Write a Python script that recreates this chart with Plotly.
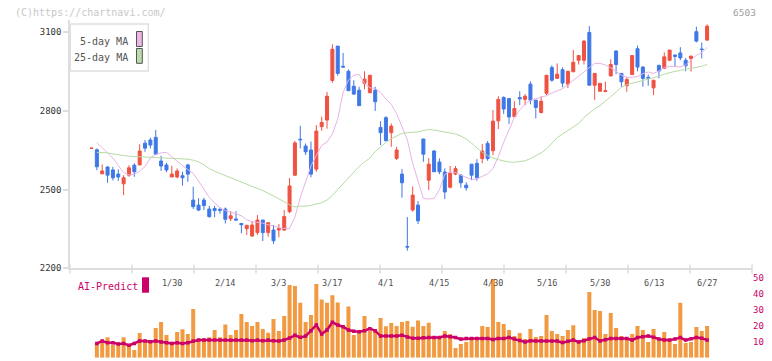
import plotly.graph_objects as go

W, H = 772, 361

# ---------------- data ----------------
date_labels = ["1/30", "2/14", "3/3", "3/17", "4/1", "4/15", "4/30", "5/16", "5/30", "6/13", "6/27"]
date_label_idx = [15, 25, 35, 45, 55, 65, 75, 85, 95, 105, 115]

open_ = [2657, 2652, 2560, 2586, 2575, 2559, 2522, 2555, 2593, 2594,
         2677, 2689, 2699, 2609, 2594, 2548, 2548, 2553, 2594, 2460,
         2441, 2460, 2426, 2428, 2425, 2426, 2389, 2388, 2371, 2351,
         2323, 2336, 2384, 2336, 2346, 2346, 2346, 2416, 2555, 2692,
         2666, 2651, 2578, 2740, 2765, 2916, 3047, 2970, 2951, 2894,
         2879, 2905, 2869, 2879, 2737, 2774, 2717, 2619, 2559, 2283,
         2422, 2441, 2693, 2536, 2647, 2605, 2567, 2509, 2559, 2555,
         2517, 2597, 2600, 2618, 2676, 2648, 2762, 2851, 2847, 2778,
         2851, 2844, 2902, 2841, 2794, 2867, 2965, 2924, 2957, 2902,
         2949, 2993, 2993, 3099, 2898, 2875, 2874, 2933, 3028, 2943,
         2896, 2939, 3037, 2967, 2928, 2888, 2974, 2962, 2993, 3013,
         3021, 2993, 2999, 3102, 3036, 3070]
high = [2658, 2657, 2596, 2590, 2587, 2577, 2555, 2593, 2600, 2673,
        2689, 2698, 2727, 2629, 2602, 2591, 2581, 2568, 2598, 2511,
        2467, 2469, 2438, 2438, 2432, 2432, 2418, 2418, 2372, 2364,
        2380, 2403, 2384, 2374, 2365, 2369, 2422, 2544, 2686, 2743,
        2676, 2683, 2746, 2778, 2872, 3054, 3047, 3021, 2958, 2917,
        2892, 2951, 2936, 2892, 2761, 2780, 2752, 2663, 2578, 2395,
        2512, 2456, 2693, 2620, 2651, 2619, 2581, 2590, 2590, 2559,
        2528, 2597, 2616, 2674, 2685, 2803, 2856, 2856, 2847, 2837,
        2875, 2864, 2913, 2841, 2856, 2936, 2974, 2981, 2966, 2951,
        3032, 3011, 3070, 3123, 2943, 2905, 2911, 2997, 3032, 2943,
        2930, 3013, 3049, 2971, 2939, 2917, 2974, 3023, 3032, 3015,
        3043, 3002, 3009, 3121, 3061, 3130]
low = [2656, 2574, 2560, 2526, 2535, 2533, 2479, 2549, 2549, 2594,
       2644, 2657, 2632, 2571, 2566, 2548, 2543, 2515, 2530, 2426,
       2418, 2422, 2393, 2395, 2408, 2371, 2380, 2383, 2333, 2327,
       2320, 2327, 2304, 2320, 2293, 2318, 2342, 2410, 2552, 2657,
       2632, 2547, 2568, 2724, 2732, 2907, 2934, 2966, 2877, 2861,
       2820, 2883, 2869, 2800, 2670, 2686, 2663, 2613, 2469, 2267,
       2416, 2369, 2606, 2498, 2568, 2559, 2464, 2505, 2555, 2507,
       2496, 2536, 2534, 2600, 2610, 2632, 2731, 2788, 2750, 2778,
       2822, 2822, 2825, 2771, 2790, 2860, 2911, 2924, 2890, 2887,
       2949, 2977, 2977, 2898, 2841, 2875, 2871, 2933, 2940, 2892,
       2873, 2936, 2951, 2892, 2896, 2860, 2924, 2962, 2990, 2971,
       2993, 2951, 2950, 3061, 3000, 3066]
close = [2658, 2587, 2571, 2555, 2545, 2548, 2545, 2583, 2568, 2647,
         2658, 2670, 2635, 2590, 2575, 2559, 2571, 2545, 2559, 2435,
         2422, 2439, 2397, 2420, 2421, 2387, 2400, 2384, 2366, 2364,
         2365, 2384, 2336, 2374, 2305, 2352, 2397, 2514, 2678, 2690,
         2644, 2559, 2723, 2756, 2856, 3035, 2943, 2967, 2877, 2864,
         2820, 2921, 2936, 2835, 2717, 2686, 2742, 2651, 2526, 2281,
         2479, 2381, 2635, 2597, 2568, 2568, 2491, 2562, 2580, 2526,
         2507, 2555, 2545, 2647, 2618, 2761, 2844, 2807, 2777, 2809,
         2846, 2856, 2841, 2813, 2837, 2936, 2917, 2940, 2906, 2951,
         2985, 3011, 3066, 2898, 2943, 2905, 2877, 2977, 2977, 2911,
         2920, 3011, 2967, 2924, 2925, 2917, 2952, 3006, 3032, 3008,
         3002, 2972, 3009, 3066, 3034, 3123]

ma5 = [None, 2679, 2660, 2640, 2620, 2592, 2565, 2556, 2558, 2570,
       2588, 2620, 2634, 2640, 2642, 2625, 2610, 2592, 2576, 2562,
       2533, 2500, 2470, 2450, 2430, 2420, 2415, 2408, 2400, 2385,
       2378, 2376, 2372, 2366, 2362, 2355, 2352, 2352, 2395, 2470,
       2530, 2590, 2630, 2668, 2682, 2712, 2770, 2870, 2918, 2936,
       2939, 2905, 2888, 2886, 2870, 2845, 2825, 2790, 2740, 2690,
       2600, 2530, 2466, 2464, 2466, 2500, 2558, 2568, 2565, 2555,
       2545, 2538, 2541, 2552, 2560, 2580, 2625, 2680, 2730, 2775,
       2803, 2826, 2840, 2846, 2850, 2858, 2868, 2876, 2885, 2900,
       2916, 2932, 2948, 2965, 2981, 2981, 2975, 2965, 2950, 2936,
       2928, 2928, 2931, 2942, 2948, 2943, 2952, 2965, 2970, 2970,
       2968, 2975, 2995, 3012, 3022, 3042]
ma25 = [None, 2642, 2641, 2640, 2636, 2632, 2630, 2627, 2626, 2625,
        2625, 2624, 2624, 2623, 2622, 2621, 2620, 2619, 2616, 2612,
        2606, 2594, 2580, 2570, 2562, 2552, 2544, 2535, 2528, 2520,
        2512, 2505, 2496, 2486, 2476, 2464, 2454, 2442, 2434, 2437,
        2437, 2440, 2444, 2450, 2460, 2478, 2500, 2522, 2545, 2568,
        2588, 2605, 2620, 2645, 2663, 2680, 2694, 2705, 2714, 2717,
        2718, 2720, 2725, 2729, 2727, 2723, 2720, 2716, 2712, 2704,
        2693, 2677, 2660, 2642, 2630, 2620, 2614, 2610, 2605, 2604,
        2606, 2610, 2618, 2628, 2640, 2655, 2676, 2698, 2712, 2725,
        2736, 2752, 2775, 2792, 2808, 2820, 2836, 2855, 2872, 2890,
        2900, 2905, 2910, 2915, 2920, 2925, 2932, 2940, 2947, 2951,
        2954, 2958, 2963, 2966, 2970, 2977]

volume = [None, 9.2, 10.5, 12.8, 8.2, 8.0, 12.8, 8.0, 4.8, 15.5,
          10.9, 11.1, 18.7, 22.5, 14.3, 10.1, 16.2, 17.9, 14.9, 30.6,
          11.8, 11.8, 12.8, 17.4, 12.8, 20.9, 14.3, 17.4, 27.5, 22.5,
          20.0, 22.5, 18.1, 15.7, 24.3, 16.8, 26.2, 45.8, 45.1, 34.6,
          22.5, 26.9, 46.4, 36.7, 34.6, 39.4, 34.8, 20.1, 32.3, 14.3,
          16.8, 26.2, 16.8, 17.4, 25.0, 19.8, 21.9, 20.0, 22.5, 23.1,
          19.5, 23.5, 19.9, 22.0, 11.8, 11.8, 16.8, 14.9, 6.1, 8.6,
          9.9, 11.8, 11.8, 19.9, 19.3, 49.5, 22.5, 21.2, 17.4, 13.6,
          15.5, 11.8, 18.0, 13.0, 13.6, 26.9, 16.8, 14.9, 13.6, 17.4,
          20.5, 9.9, 12.4, 41.3, 30.0, 29.4, 14.9, 28.1, 18.7, 13.6,
          11.1, 14.9, 19.9, 17.4, 9.9, 18.0, 11.1, 16.2, 11.1, 8.6,
          34.6, 9.3, 9.9, 19.3, 16.8, 19.9]

ai_predict = [None, 9.0, 10.5, 9.4, 9.4, 8.6, 9.0, 7.8, 9.0, 10.5,
              10.5, 10.1, 10.5, 9.9, 9.4, 9.0, 9.4, 9.0, 9.4, 10.5,
              11.1, 11.1, 11.1, 11.1, 11.1, 11.1, 11.0, 11.1, 11.1, 11.1,
              10.7, 11.1, 10.7, 11.1, 10.7, 10.5, 11.1, 12.4, 14.1, 12.8,
              13.6, 17.0, 20.6, 14.9, 17.4, 22.3, 20.6, 19.5, 17.4, 16.6,
              16.4, 17.0, 18.3, 17.0, 13.6, 13.6, 13.6, 13.6, 14.1, 13.0,
              12.2, 12.2, 12.5, 12.7, 12.7, 12.7, 13.6, 13.2, 12.7, 11.7,
              12.1, 12.1, 12.1, 12.1, 12.1, 11.5, 12.1, 12.1, 12.7, 11.7,
              10.9, 9.9, 10.7, 10.5, 10.5, 10.5, 10.5, 10.5, 9.5, 10.3,
              11.1, 9.9, 10.7, 11.9, 12.7, 10.5, 11.3, 12.1, 12.1, 12.1,
              12.1, 11.1, 12.7, 13.2, 13.6, 12.9, 11.7, 11.1, 11.1, 11.7,
              12.7, 11.1, 11.9, 12.7, 12.3, 11.1]

x = list(range(len(close)))

# ---------------- geometry helpers (pixels -> paper) ----------------
def PX(px):
    return px / W

def PY(py):
    return 1 - py / H

X0_PX, X1_PX = 70, 752
STEP = 5.353
FIRST = 91.5
x_range = [(X0_PX - FIRST) / STEP, (X1_PX - FIRST) / STEP]

MAIN_TOP, MAIN_BOT = 20, 268.3
PX_PER_UNIT = 78.7 / 300
y_range = [2200, 2200 + (MAIN_BOT - MAIN_TOP) / PX_PER_UNIT]

VOL_TOP, VOL_BOT = 278.3, 357.7

RED = "#f05242"
BLUE = "#3f78e6"
MONO = "DejaVu Sans Mono"

fig = go.Figure()

fig.add_trace(go.Candlestick(
    x=x, open=open_, high=high, low=low, close=close,
    increasing=dict(line=dict(color=RED, width=1), fillcolor=RED),
    decreasing=dict(line=dict(color=BLUE, width=1), fillcolor=BLUE),
    whiskerwidth=0, xaxis="x", yaxis="y", hoverinfo="skip",
))
fig.add_trace(go.Scatter(x=x, y=ma5, mode="lines", line=dict(color="#e6b3e6", width=1),
                         xaxis="x", yaxis="y", hoverinfo="skip"))
fig.add_trace(go.Scatter(x=x, y=ma25, mode="lines", line=dict(color="#b5dba5", width=1),
                         xaxis="x", yaxis="y", hoverinfo="skip"))

fig.add_trace(go.Bar(x=x, y=volume, marker=dict(color="#f29a42", line=dict(width=0)),
                     width=0.75, xaxis="x", yaxis="y2", hoverinfo="skip"))
fig.add_trace(go.Scatter(x=x, y=ai_predict, mode="lines+markers",
                         line=dict(color="#cc0066", width=2.5),
                         marker=dict(color="#cc0066", size=3.5, symbol="square"),
                         xaxis="x", yaxis="y2", hoverinfo="skip"))

shapes = []
# x-axis tick marks every 62 px crossing the main axis line
for k in range(12):
    px = X0_PX + 62 * k
    shapes.append(dict(type="line", xref="paper", yref="paper",
                       x0=PX(px), x1=PX(px), y0=PY(264.5), y1=PY(273.5),
                       line=dict(color="#dddddd", width=1.5)))
# MA legend box
shapes.append(dict(type="rect", xref="paper", yref="paper",
                   x0=PX(70.3), x1=PX(148.3), y0=PY(71), y1=PY(24),
                   line=dict(color="#e0e0e0", width=1.5), fillcolor="white"))
shapes.append(dict(type="rect", xref="paper", yref="paper",
                   x0=PX(136.5), x1=PX(142.3), y0=PY(46.5), y1=PY(31.5),
                   line=dict(color="#555555", width=1), fillcolor="#edb5ea"))
shapes.append(dict(type="rect", xref="paper", yref="paper",
                   x0=PX(136.5), x1=PX(142.3), y0=PY(63.3), y1=PY(48.5),
                   line=dict(color="#555555", width=1), fillcolor="#bcdcaa"))
# AI-Predict swatch
shapes.append(dict(type="rect", xref="paper", yref="paper",
                   x0=PX(142), x1=PX(149), y0=PY(292.7), y1=PY(277.3),
                   line=dict(width=0), fillcolor="#cc0066"))

annotations = [
    dict(text="(C)https://chartnavi.com/", xref="paper", yref="paper", x=PX(13), y=PY(12),
         xanchor="left", yanchor="middle", showarrow=False,
         font=dict(family=MONO, size=10, color="#c8c8c8")),
    dict(text="6503", xref="paper", yref="paper", x=PX(757.5), y=PY(12),
         xanchor="right", yanchor="middle", showarrow=False,
         font=dict(family=MONO, size=9.5, color="#a0a0a0")),
    dict(text="5-day MA", xref="paper", yref="paper", x=PX(130), y=PY(41),
         xanchor="right", yanchor="middle", showarrow=False,
         font=dict(family=MONO, size=10, color="#555555")),
    dict(text="25-day MA", xref="paper", yref="paper", x=PX(130), y=PY(57.5),
         xanchor="right", yanchor="middle", showarrow=False,
         font=dict(family=MONO, size=10, color="#555555")),
    dict(text="AI-Predict", xref="paper", yref="paper", x=PX(75.5), y=PY(286),
         xanchor="left", yanchor="middle", showarrow=False,
         font=dict(family=MONO, size=10, color="#cc0066")),
]
for idx, lab in zip(date_label_idx, date_labels):
    annotations.append(dict(text=lab, xref="x", yref="paper", x=idx, y=PY(282.5),
                            xanchor="center", yanchor="middle", showarrow=False,
                            font=dict(family=MONO, size=8.5, color="#505050")))

fig.update_layout(
    width=W, height=H,
    margin=dict(l=0, r=0, t=0, b=0, autoexpand=False),
    paper_bgcolor="white", plot_bgcolor="white",
    showlegend=False,
    boxgap=0.2,
    bargap=0.2,
    xaxis=dict(domain=[PX(X0_PX), PX(X1_PX)], range=x_range, anchor="y", automargin=False,
               showgrid=False, zeroline=False, showticklabels=False, ticks="",
               showline=True, linecolor="#dddddd", linewidth=1.5,
               rangeslider=dict(visible=False), fixedrange=True),
    yaxis=dict(domain=[PY(MAIN_BOT), PY(MAIN_TOP)], range=y_range, anchor="x", automargin=False,
               showgrid=False, zeroline=False,
               showline=True, linecolor="#dddddd", linewidth=1.5,
               ticks="outside", ticklen=5, tickcolor="#dddddd", tickwidth=1.5,
               tickvals=[2200, 2500, 2800, 3100],
               tickfont=dict(family=MONO, size=9, color="#333333")),
    yaxis2=dict(domain=[PY(VOL_BOT), PY(VOL_TOP)], range=[0, 50], anchor="x", side="right",
                automargin=False,
                showgrid=False, zeroline=False, showline=False, ticks="",
                tickvals=[0, 10, 20, 30, 40, 50],
                tickfont=dict(family=MONO, size=9, color="#cc0066")),
    shapes=shapes,
    annotations=annotations,
)

fig.write_html(
    "out.html",
    config={"displayModeBar": False, "responsive": False},
    post_script="document.body.style.margin='0';document.body.style.overflow='hidden';",
)
